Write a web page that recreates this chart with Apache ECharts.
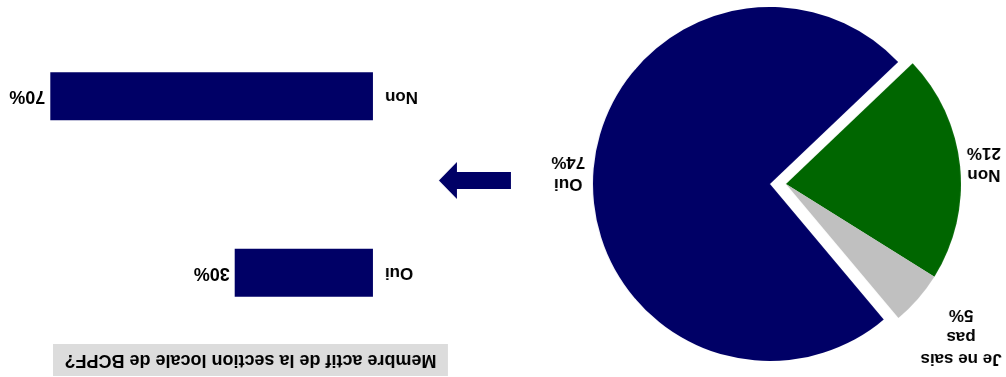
<!DOCTYPE html>
<html>
<head>
<meta charset="utf-8">
<script src="https://cdn.jsdelivr.net/npm/echarts@6/dist/echarts.min.js"></script>
<style>
html,body{margin:0;padding:0;background:#fff;}
#chart{width:1006px;height:377px;transform:rotate(180deg);}
</style>
</head>
<body>
<div id="chart"></div>
<script>
// ---- data ----
const pieCategories = ['Oui', 'Non', 'Je ne sais pas'];
const pieValues = [74, 21, 5];
const pieLabelText = ['Oui', 'Non', 'Je ne sais\npas'];
const barCategories = ['Oui', 'Non'];
const barValues = [30, 70];
const titleText = 'Membre actif de la section locale de BCPF?';

// ---- style ----
const NAVY = '#000066';
const GREEN = '#006600';
const GRAY = '#c0c0c0';
const pieColors = [NAVY, GREEN, GRAY];
const FONT = '"Liberation Sans", Arial, sans-serif';
const START = 130;
const centers = [[236, 193], [220, 193]];
const radii = [177, 175];
const labelGap = [25, 24, 57];
const visibleIn = [0, 1, 1]; // which pie series shows each slice

const total = pieValues.reduce((a, b) => a + b, 0);
function midAngle(i) {
  let cum = 0;
  for (let k = 0; k < i; k++) cum += pieValues[k];
  const s = START - 360 * cum / total;
  const e = s - 360 * pieValues[i] / total;
  return (s + e) / 2;
}

function pieSeries(si) {
  return {
    type: 'pie',
    silent: true,
    center: centers[si],
    radius: radii[si],
    startAngle: START,
    clockwise: true,
    avoidLabelOverlap: false,
    animation: false,
    labelLine: { show: false },
    emphasis: { disabled: true },
    data: pieCategories.map((n, i) => ({
      name: n,
      value: pieValues[i],
      itemStyle: { color: visibleIn[i] === si ? pieColors[i] : 'rgba(0,0,0,0)' },
      label: {
        show: visibleIn[i] === si,
        position: 'outside',
        formatter: pieLabelText[i] + '\n' + pieValues[i] + '%',
        fontFamily: FONT, fontSize: 17, fontWeight: 'bold', color: '#000',
        lineHeight: 22, align: 'center'
      }
    })),
    labelLayout: function (p) {
      const i = p.dataIndex;
      const a = midAngle(i) * Math.PI / 180;
      const d = radii[si] + labelGap[i];
      return {
        x: centers[si][0] + d * Math.cos(a),
        y: centers[si][1] - d * Math.sin(a),
        align: 'center',
        verticalAlign: 'middle'
      };
    }
  };
}

const chart = echarts.init(document.getElementById('chart'), null, { renderer: 'canvas' });
chart.setOption({
  animation: false,
  backgroundColor: '#fff',
  grid: { left: 633, top: 16, width: 368.8, height: 353 },
  xAxis: { type: 'value', min: 0, max: 80, show: false },
  yAxis: {
    type: 'category', data: barCategories, inverse: true,
    axisLine: { show: false }, axisTick: { show: false },
    axisLabel: { fontFamily: FONT, fontSize: 17, fontWeight: 'bold', color: '#000', margin: 12 }
  },
  graphic: [
    {
      type: 'group', left: 558, top: 1,
      children: [
        { type: 'rect', shape: { x: 0, y: 0, width: 395, height: 32 }, style: { fill: '#dcdcdc' } },
        { type: 'text', x: 197.5, y: 16.5, style: { text: titleText, fontFamily: FONT, fontSize: 18, fontWeight: 'bold', fill: '#000', align: 'center', verticalAlign: 'middle' } }
      ]
    },
    {
      type: 'polygon',
      shape: { points: [[495, 188], [549, 188], [549, 178], [567, 196.5], [549, 215], [549, 205], [495, 205]] },
      style: { fill: NAVY }
    }
  ],
  series: [
    {
      type: 'bar', data: barValues, barWidth: 48, silent: true,
      itemStyle: { color: NAVY },
      label: { show: true, position: 'right', distance: 5, formatter: '{c}%', fontFamily: FONT, fontSize: 18, fontWeight: 'bold', color: '#000' }
    },
    pieSeries(0),
    pieSeries(1)
  ]
});
</script>
</body>
</html>
